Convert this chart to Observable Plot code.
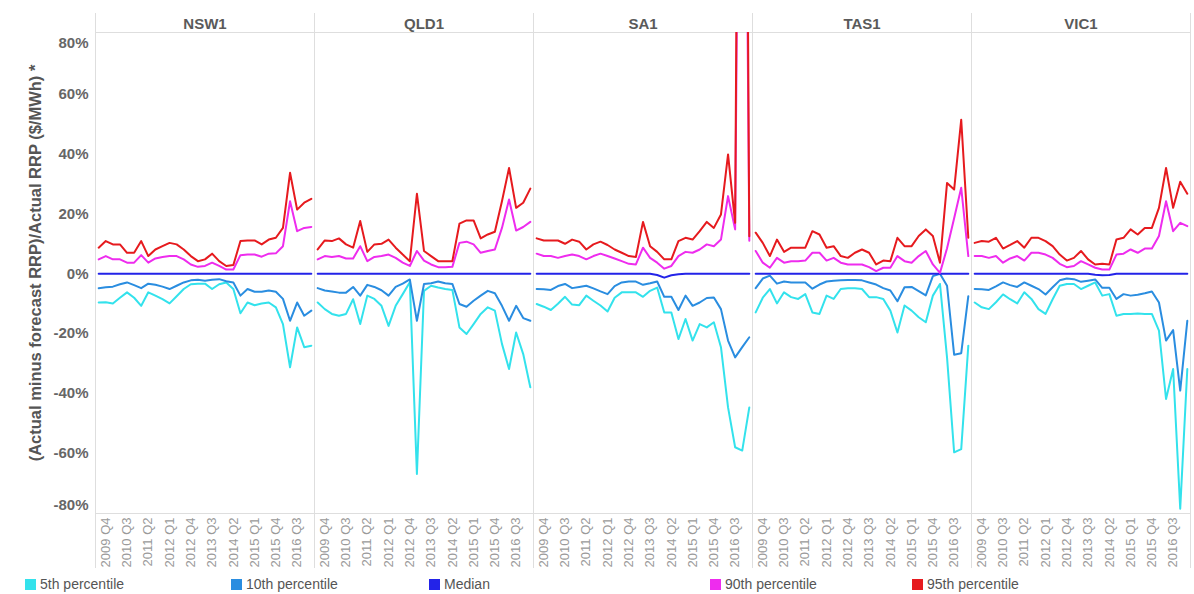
<!DOCTYPE html>
<html>
<head>
<meta charset="utf-8">
<script src="https://cdn.jsdelivr.net/npm/d3@7"></script>
<script src="https://cdn.jsdelivr.net/npm/@observablehq/plot@0.6"></script>
<style>
  html, body { margin: 0; padding: 0; background: #fff; }
  #chart { width: 1194px; }
  .legend { position: relative; width: 1194px; height: 20px; font-family: "Liberation Sans", Arial, sans-serif; font-size: 14px; color: #555; }
  .legend .item { position: absolute; top: 2px; display: flex; align-items: center; white-space: nowrap; }
  .legend .sw { width: 11px; height: 11px; margin-right: 4px; }
</style>
</head>
<body>
<div id="chart"></div>
<div class="legend" id="legend"></div>
<script>
// Quarters 2009 Q3 .. 2017 Q1
const quarters = ["2009 Q3","2009 Q4","2010 Q1","2010 Q2","2010 Q3","2010 Q4","2011 Q1","2011 Q2","2011 Q3","2011 Q4",
  "2012 Q1","2012 Q2","2012 Q3","2012 Q4","2013 Q1","2013 Q2","2013 Q3","2013 Q4","2014 Q1","2014 Q2",
  "2014 Q3","2014 Q4","2015 Q1","2015 Q2","2015 Q3","2015 Q4","2016 Q1","2016 Q2","2016 Q3","2016 Q4","2017 Q1"];
const tickLabels = ["2009 Q4","2010 Q3","2011 Q2","2012 Q1","2012 Q4","2013 Q3","2014 Q2","2015 Q1","2015 Q4","2016 Q3"];
const regions = ["NSW1","QLD1","SA1","TAS1","VIC1"];
const seriesNames = ["5th percentile","10th percentile","Median","90th percentile","95th percentile"];
const seriesColors = ["#33e2ec","#2a8de0","#2323e8","#ee2cee","#e61a1e"];
const yTicks = [-60,-40,-20,0,20,40,60];
const legendX = [25, 231, 429, 710, 912];

// values in percent
const nsw_p95 = [8.7,10.9,9.8,9.8,7.0,7.0,10.9,5.9,8.1,9.2,10.3,9.8,8.1,5.9,4.2,4.8,6.7,4.2,2.6,2.9,10.9,11.1,11.1,9.8,11.4,12.0,15.3,33.7,21.4,23.7,25.0];
const nsw_p90 = [4.8,5.9,4.8,4.8,3.7,3.7,6.2,3.7,5.1,5.6,5.9,5.9,4.8,3.1,2.3,2.6,3.7,2.6,1.4,1.4,6.2,6.4,6.4,5.7,6.7,6.8,9.2,24.2,14.2,15.3,15.6];
const nsw_med = [0,0,0,0,0,0,0,0,0,0,0,0,0,0,0,0,0,0,0,0,0,0,0,0,0,0,0,0,0,0,0];
const nsw_p10 = [-4.8,-4.5,-4.3,-3.5,-2.9,-3.8,-4.8,-3.3,-3.7,-4.3,-5.1,-4.0,-2.9,-2.2,-2.0,-2.3,-2.0,-1.8,-2.5,-2.9,-7.3,-5.1,-6.0,-6.0,-5.6,-6.0,-8.4,-15.7,-9.6,-14.0,-12.3];
const nsw_p5 = [-9.6,-9.5,-9.9,-8.0,-6.2,-8.0,-10.7,-6.2,-7.3,-8.5,-9.9,-7.5,-5.1,-3.5,-3.3,-3.3,-5.1,-3.5,-2.9,-5.1,-13.2,-9.6,-10.5,-9.9,-9.6,-11.2,-16.8,-31.2,-17.9,-24.5,-24.0];

const qld_p95 = [8.1,11.1,10.9,11.8,9.8,8.7,17.6,7.3,9.8,10.0,11.4,8.7,6.4,4.2,26.7,7.6,5.9,4.2,4.2,4.2,16.7,17.8,17.8,11.8,13.1,14.0,24.2,35.3,22.0,23.7,28.4];
const qld_p90 = [4.8,5.9,5.6,5.9,5.1,5.1,9.2,4.2,5.6,5.9,6.4,5.3,3.7,2.6,7.6,4.4,3.1,2.2,2.2,2.3,10.3,10.7,9.8,7.0,7.6,8.1,15.3,24.8,14.4,15.6,17.3];
const qld_med = [0,0,0,0,0,0,0,0,0,0,0,0,0,0,0,0,0,0,0,0,0,0,0,0,0,0,0,0,0,0,0];
const qld_p10 = [-4.8,-5.6,-5.9,-6.3,-6.3,-4.4,-7.3,-3.7,-4.4,-5.5,-7.3,-4.4,-3.3,-1.9,-15.7,-3.4,-3.2,-2.6,-3.2,-3.4,-10.1,-11.0,-9.0,-7.3,-5.7,-6.5,-10.7,-15.7,-10.7,-14.8,-15.7];
const qld_p5 = [-9.6,-11.8,-13.4,-14.0,-13.4,-8.5,-16.8,-7.3,-8.4,-10.7,-17.4,-10.7,-6.8,-2.8,-66.8,-5.7,-4.0,-4.6,-5.1,-5.4,-17.9,-20.1,-16.8,-13.4,-11.2,-12.3,-23.4,-31.8,-19.6,-26.8,-37.9];

const sa_p95 = [11.8,11.1,11.1,11.1,10.0,11.4,10.7,8.1,9.8,10.7,9.6,8.1,7.0,5.9,5.6,17.3,9.2,7.3,4.8,4.8,10.9,12.0,11.4,14.2,17.3,15.3,19.8,39.8,17.0,400,12.5];
const sa_p90 = [6.7,5.9,5.9,5.3,5.9,6.4,5.9,4.8,5.9,6.7,5.9,5.1,4.2,3.3,3.1,8.7,5.3,3.7,1.7,2.6,5.9,7.3,7.0,8.1,9.8,9.2,11.4,25.9,14.8,300,11.0];
const sa_med = [0,0,0,0,0,0,0,0,0,0,0,0,0,0,0,0,0,-0.4,-1.3,-0.5,-0.2,0,0,0,0,0,0,0,0,0,0];
const sa_p10 = [-5.1,-5.2,-5.4,-4.1,-3.4,-4.8,-4.4,-4.0,-4.9,-5.9,-6.8,-4.1,-2.9,-2.6,-2.6,-3.7,-3.2,-2.6,-7.7,-7.7,-12.1,-7.3,-10.7,-9.6,-8.1,-7.9,-11.8,-22.3,-27.9,-24.5,-21.2];
const sa_p5 = [-10.1,-11.0,-12.1,-10.0,-7.7,-10.3,-10.5,-7.3,-9.0,-10.6,-12.6,-8.0,-6.2,-6.2,-6.2,-7.7,-5.7,-4.6,-12.9,-12.9,-21.8,-15.1,-22.3,-16.8,-17.9,-16.2,-24.5,-44.6,-57.9,-59.0,-44.6];

const tas_p95 = [13.7,10.3,5.9,11.4,7.3,8.7,8.7,8.7,14.2,13.1,8.7,9.2,5.9,5.3,7.0,8.1,7.0,3.1,4.4,4.2,12.0,9.2,9.2,12.6,14.8,12.6,3.7,30.3,28.1,51.4,12.0];
const tas_p90 = [7.6,3.7,2.0,5.3,3.7,4.2,4.2,4.4,7.0,7.0,4.4,5.3,3.7,3.1,3.1,3.1,2.2,0.9,2.0,2.0,5.9,4.2,3.7,5.9,7.6,3.1,0.3,8.5,18.5,28.7,5.9];
const tas_med = [0,0,0,0,0,0,0,0,0,0,0,0,0,0,0,0,0,0,0,0,0,0,0,0,0,0,0,0,0,0,0];
const tas_p10 = [-4.8,-1.6,-0.6,-3.3,-2.6,-2.9,-2.9,-2.9,-5.0,-3.6,-2.6,-2.3,-2.2,-2.1,-2.1,-2.2,-2.9,-3.6,-4.8,-5.6,-9.2,-4.5,-4.4,-5.8,-7.2,-0.8,0.0,-4.0,-27.0,-26.5,-7.5];
const tas_p5 = [-12.9,-8.0,-5.1,-9.9,-6.2,-7.8,-8.4,-6.8,-12.9,-13.4,-7.3,-8.4,-5.1,-4.8,-4.8,-5.1,-7.8,-7.8,-8.4,-12.3,-19.6,-10.6,-12.3,-14.5,-16.2,-7.3,-3.4,-28.0,-59.6,-58.5,-24.0];

const vic_p95 = [10.3,10.9,10.7,12.0,8.4,9.6,10.9,8.7,12.0,12.0,10.9,9.2,6.4,4.4,5.3,7.6,4.8,3.1,3.3,3.1,11.4,12.0,14.8,13.1,15.3,15.3,22.0,35.3,22.0,30.7,26.7];
const vic_p90 = [5.9,5.9,5.3,5.9,3.7,5.1,5.9,4.4,7.0,7.0,6.4,5.3,3.3,2.2,2.6,4.2,3.1,2.0,1.4,1.4,6.4,6.7,8.1,7.0,8.4,8.4,12.6,24.2,14.2,17.0,15.9];
const vic_med = [0,0,0,0,0,0,0,0,0,0,0,0,0,0,0,0,0,-0.3,-0.5,-0.4,0,0,0,0,0,0,0,0,0,0,0];
const vic_p10 = [-5.1,-5.2,-5.4,-4.2,-2.9,-3.8,-4.4,-2.9,-4.0,-5.1,-6.9,-4.5,-2.2,-1.6,-1.8,-2.7,-2.3,-1.9,-4.7,-4.7,-8.4,-6.8,-7.3,-7.0,-6.5,-5.9,-9.6,-22.3,-18.8,-39.0,-15.7];
const vic_p5 = [-9.6,-11.2,-11.8,-9.5,-6.9,-8.5,-9.9,-6.2,-8.4,-11.8,-13.4,-8.5,-4.0,-3.4,-3.4,-5.1,-4.0,-2.9,-7.3,-6.8,-14.0,-13.4,-13.4,-13.3,-13.4,-13.4,-19.0,-41.8,-31.8,-78.4,-31.8];

const regionSeries = {
  NSW1: [nsw_p5, nsw_p10, nsw_med, nsw_p90, nsw_p95],
  QLD1: [qld_p5, qld_p10, qld_med, qld_p90, qld_p95],
  SA1:  [sa_p5, sa_p10, sa_med, sa_p90, sa_p95],
  TAS1: [tas_p5, tas_p10, tas_med, tas_p90, tas_p95],
  VIC1: [vic_p5, vic_p10, vic_med, vic_p90, vic_p95]
};

const rows = [];
for (const r of regions) {
  regionSeries[r].forEach((vals, s) => {
    vals.forEach((v, i) => rows.push({region: r, series: seriesNames[s], q: i, value: v}));
  });
}
const tickIdx = tickLabels.map(t => quarters.indexOf(t));
const xDom = [-0.45, quarters.length - 1 + 0.45];
const font = "'Liberation Sans', Arial, Helvetica, sans-serif";
const yTitle = "(Actual minus forecast RRP)/Actual RRP ($/MWh) *";

const yAxisOpts = {tickSize: 0, tickPadding: 7, tickFormat: d => d + "%", fontSize: 15, fontWeight: "bold", fill: "#666", label: null};

const chart = Plot.plot({
  width: 1194,
  height: 574,
  marginLeft: 93,
  marginRight: 3,
  marginTop: 32,
  marginBottom: 61,
  style: {fontFamily: font, background: "#fff"},
  fx: {domain: regions, padding: 0, label: null},
  x: {domain: xDom},
  y: {domain: [-80, 80.5]},
  color: {domain: seriesNames, range: seriesColors},
  marks: [
    Plot.frame({stroke: "#dedede"}),
    Plot.ruleX(xDom, {stroke: "#dedede", insetTop: -19, insetBottom: -55}),
    Plot.axisFx({anchor: "top", tickSize: 0, tickPadding: 4, fontSize: 15, fontWeight: "bold", fill: "#5a5a5a", label: null}),
    Plot.axisY(yTicks, yAxisOpts),
    Plot.axisY([80], {...yAxisOpts, dy: 9}),
    Plot.axisY([-80], {...yAxisOpts, dy: -8}),
    Plot.axisX(tickIdx, {tickSize: 0, tickPadding: 4, tickRotate: -90, tickFormat: i => quarters[i], fontSize: 13, fill: "#9a9a9a", label: null}),
    Plot.text([yTitle], {fx: () => "NSW1", text: d => d, frameAnchor: "left", textAnchor: "middle", rotate: -90, dx: -60, dy: -10, fontSize: 16.5, fontWeight: "bold", fill: "#555"}),
    Plot.lineY(rows, {fx: "region", x: "q", y: "value", z: "series", stroke: "series", strokeWidth: 2, clip: true})
  ]
});
document.getElementById("chart").appendChild(chart);

const legend = d3.select("#legend");
seriesNames.forEach((name, i) => {
  const it = legend.append("div").attr("class", "item").style("left", legendX[i] + "px");
  it.append("div").attr("class", "sw").style("background", seriesColors[i]);
  it.append("span").text(name);
});
</script>
</body>
</html>
